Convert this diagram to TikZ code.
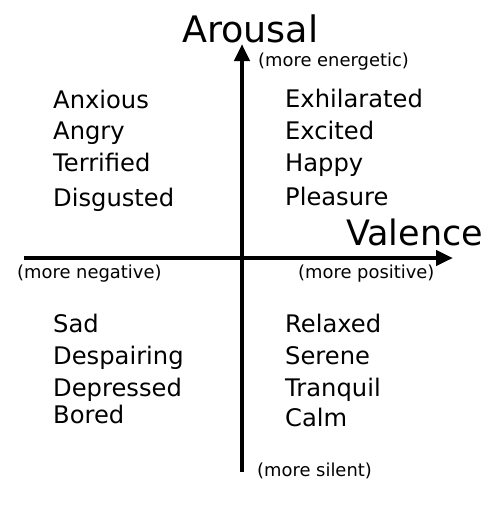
\documentclass[tikz,border=0pt]{standalone}
\usepackage{fontspec}
\setmainfont{DejaVu Sans}
\usetikzlibrary{arrows.meta}
\tikzset{
  word/.style={anchor=base west, inner sep=0pt, font=\fontsize{24.2}{28}\selectfont},
  note/.style={anchor=base west, inner sep=0pt, font=\fontsize{17.9}{21}\selectfont},
  axistitle/.style={anchor=base west, inner sep=0pt},
  axis/.style={line width=4.5pt, -{Triangle[length=17pt,width=15pt]}}
}
\begin{document}
\begin{tikzpicture}[x=1pt,y=-1pt]
\useasboundingbox (0,0) rectangle (496,509);
% axes
\coordinate (hl) at (24,258);
\coordinate (hr) at (453,258);
\coordinate (vb) at (242,472);
\coordinate (vt) at (242,44);
\draw[axis] (hl) -- (hr);
\draw[axis] (vb) -- (vt);
% titles
\node[axistitle, font=\fontsize{36.5}{40}\selectfont] (arousal) at (182,42) {Arousal};
\node[axistitle, font=\fontsize{35}{40}\selectfont] (valence) at (346,245) {Valence};
% notes
\node[note] (energetic) at (258,66) {(more energetic)};
\node[note] (negative) at (17,278) {(more negative)};
\node[note] (positive) at (298,278) {(more positive)};
\node[note] (silent) at (257,476) {(more silent)};
% upper left
\node[word] (anxious) at (53,108) {Anxious};
\node[word] (angry) at (53,139) {Angry};
\node[word] (terrified) at (53,171) {Terrified};
\node[word] (disgusted) at (53,206) {Disgusted};
% upper right
\node[word] (exhil) at (285,107) {Exhilarated};
\node[word] (excited) at (285,139) {Excited};
\node[word] (happy) at (285,171) {Happy};
\node[word] (pleasure) at (285,205) {Pleasure};
% lower left
\node[word] (sad) at (53,332) {Sad};
\node[word] (despairing) at (53,364) {Despairing};
\node[word] (depressed) at (53,396) {Depressed};
\node[word] (bored) at (53,423) {Bored};
% lower right
\node[word] (relaxed) at (285,332) {Relaxed};
\node[word] (serene) at (285,364) {Serene};
\node[word] (tranquil) at (285,396) {Tranquil};
\node[word] (calm) at (285,426) {Calm};
\end{tikzpicture}
\end{document}
